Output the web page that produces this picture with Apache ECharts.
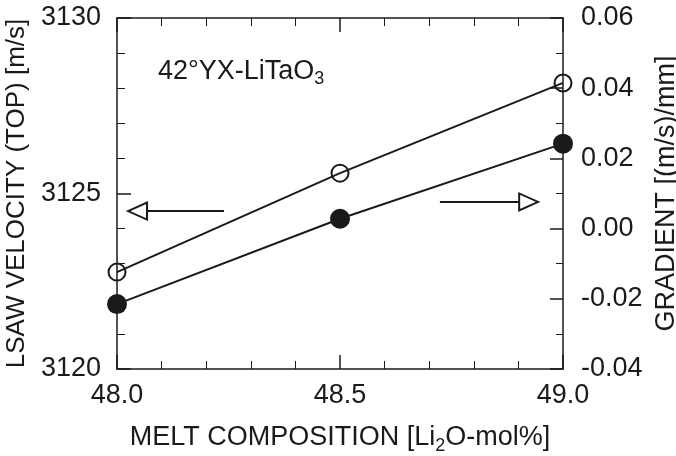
<!DOCTYPE html>
<html>
<head>
<meta charset="utf-8">
<script src="https://cdn.jsdelivr.net/npm/echarts@6/dist/echarts.min.js"></script>
<style>
  html, body { margin: 0; padding: 0; background: #fff; }
  #chart { width: 676px; height: 456px; }
</style>
</head>
<body>
<div id="chart"></div>
<script>
// melt composition (Li2O mol%)
var composition = [48.0, 48.5, 49.0];
// LSAW velocity (TOP), m/s -> left axis, open circles
var velocity = [3122.76, 3125.58, 3128.15];
// gradient, (m/s)/mm -> right axis, filled circles
var gradient = [-0.0215, 0.0028, 0.0242];

var ink = '#1a1a1a';
var font = 'Liberation Sans, Arial, Helvetica, sans-serif';

function pairs(xs, ys) {
    var out = [];
    for (var i = 0; i < xs.length; i++) out.push([xs[i], ys[i]]);
    return out;
}

var myChart = echarts.init(document.getElementById('chart'));

var option = {
    animation: false,
    backgroundColor: '#fff',
    textStyle: { fontFamily: font, color: ink },
    grid: { left: 117, right: 113, top: 18, bottom: 87, containLabel: false, outerBoundsMode: 'none' },
    xAxis: [{
        type: 'value', min: 48, max: 49, interval: 0.5,
        name: 'MELT COMPOSITION [Li{sub|2}O-mol%]',
        nameLocation: 'middle', nameGap: 52,
        nameTextStyle: {
            fontSize: 27, color: ink, fontFamily: font,
            rich: { sub: { fontSize: 18, padding: [16, 0, 0, 0], color: ink, fontFamily: font } }
        },
        axisLine: { onZero: false, lineStyle: { color: ink, width: 1.5 } },
        axisTick: { inside: true, length: 14, lineStyle: { color: ink, width: 1.5 } },
        minorTick: { show: true, splitNumber: 5, length: 8, lineStyle: { color: ink, width: 1 } },
        axisLabel: { fontSize: 27, color: ink, margin: 13, fontFamily: font,
            formatter: function (v) { return v.toFixed(1); } },
        splitLine: { show: false }
    }, {
        type: 'value', min: 48, max: 49, interval: 0.5, position: 'top',
        axisLine: { onZero: false, lineStyle: { color: ink, width: 1.5 } },
        axisTick: { inside: true, length: 14, lineStyle: { color: ink, width: 1.5 } },
        minorTick: { show: true, splitNumber: 5, length: 8, lineStyle: { color: ink, width: 1 } },
        axisLabel: { show: false },
        splitLine: { show: false }
    }],
    yAxis: [{
        type: 'value', min: 3120, max: 3130, interval: 5, position: 'left',
        name: 'LSAW VELOCITY (TOP) [m/s]',
        nameLocation: 'middle', nameGap: 81, nameRotate: 90,
        nameTextStyle: { fontSize: 26, color: ink, fontFamily: font },
        axisLine: { show: true, onZero: false, lineStyle: { color: ink, width: 1.5 } },
        axisTick: { show: true, inside: true, length: 14, lineStyle: { color: ink, width: 1.5 } },
        minorTick: { show: true, splitNumber: 5, length: 8, lineStyle: { color: ink, width: 1 } },
        axisLabel: { fontSize: 27, color: ink, margin: 16, fontFamily: font,
            formatter: function (v) { return String(v); } },
        splitLine: { show: false }
    }, {
        type: 'value', min: -0.04, max: 0.06, interval: 0.02, position: 'right',
        name: 'GRADIENT [(m/s)/mm]',
        nameLocation: 'middle', nameGap: 84, nameRotate: 90,
        nameTextStyle: { fontSize: 27, color: ink, fontFamily: font },
        axisLine: { show: true, onZero: false, lineStyle: { color: ink, width: 1.5 } },
        axisTick: { show: true, inside: true, length: 13, lineStyle: { color: ink, width: 1.5 } },
        minorTick: { show: true, splitNumber: 2, length: 7, lineStyle: { color: ink, width: 1 } },
        axisLabel: { fontSize: 27, color: ink, margin: 18, fontFamily: font,
            formatter: function (v) { return v.toFixed(2); } },
        splitLine: { show: false }
    }],
    graphic: [{
        type: 'text', left: 158, top: 58,
        style: {
            text: '42°YX-LiTaO{sub|3}',
            font: '27px ' + font, fill: ink,
            rich: { sub: { fontSize: 18, padding: [16, 0, 0, 0], fill: ink, fontFamily: font } }
        }
    }],
    series: [{
        name: 'velocity', type: 'line', xAxisIndex: 0, yAxisIndex: 0,
        data: pairs(composition, velocity),
        symbol: 'circle', symbolSize: 17,
        itemStyle: { color: 'rgba(0,0,0,0)', borderColor: ink, borderWidth: 2 },
        lineStyle: { color: ink, width: 2 },
        markLine: {
            silent: true, symbol: ['none', 'emptyTriangle'], symbolSize: [17, 19],
            label: { show: false },
            lineStyle: { color: ink, width: 2, type: 'solid' },
            itemStyle: { color: ink },
            data: [[{ coord: [48.24, 3124.5] }, { coord: [48.046, 3124.5] }]]
        }
    }, {
        name: 'gradient', type: 'line', xAxisIndex: 0, yAxisIndex: 1,
        data: pairs(composition, gradient),
        symbol: 'circle', symbolSize: 20,
        itemStyle: { color: ink },
        lineStyle: { color: ink, width: 2 },
        markLine: {
            silent: true, symbol: ['none', 'emptyTriangle'], symbolSize: [17, 19],
            label: { show: false },
            lineStyle: { color: ink, width: 2, type: 'solid' },
            itemStyle: { color: ink },
            data: [[{ coord: [48.724, 0.0076] }, { coord: [48.923, 0.0076] }]]
        }
    }]
};

myChart.setOption(option);
</script>
</body>
</html>
